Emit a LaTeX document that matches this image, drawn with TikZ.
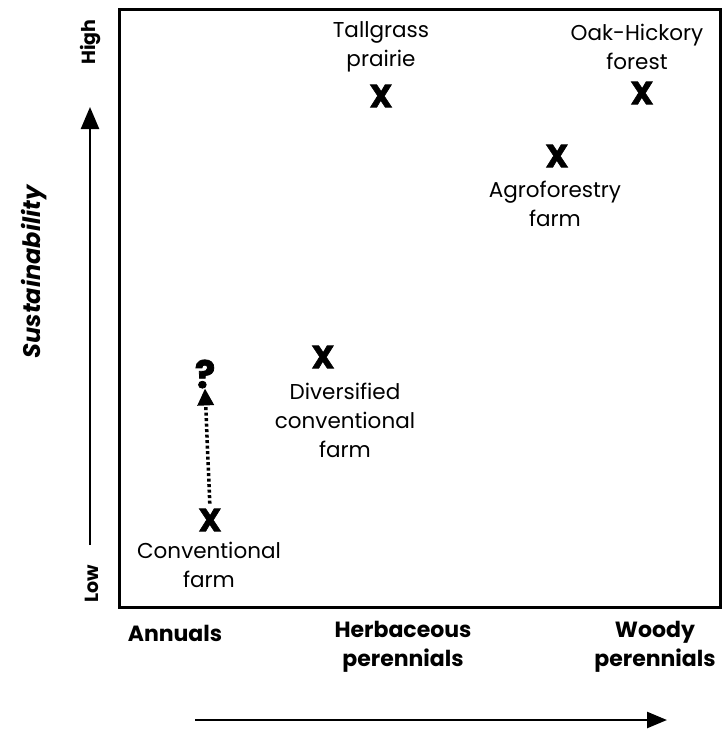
\documentclass[tikz,border=0pt]{standalone}
\usepackage{fontspec}
\setmainfont{Poppins}
\usetikzlibrary{arrows.meta,positioning}

\tikzset{
  lbl/.style={align=center, inner sep=0pt, font=\fontsize{21.5}{29}\selectfont},
  axlbl/.style={align=center, inner sep=0pt, font=\fontsize{22}{29}\selectfont\bfseries},
  endlbl/.style={inner sep=0pt, font=\fontsize{19}{19}\selectfont\bfseries},
  xmark/.style={inner sep=0pt, font=\fontsize{32}{32}\selectfont\bfseries\addfontfeature{FakeBold=2}},
}

\begin{document}
\begin{tikzpicture}[x=1pt, y=-1pt]
    \useasboundingbox (0,0) rectangle (724,732);
    % frame
    \draw[line width=3pt] (119,9) rectangle (720,607);
    % y axis
    \node[endlbl, rotate=90] (high) at (91,42) {High};
    \node[endlbl, rotate=90] (low) at (92,584) {Low};
    \node[endlbl, rotate=90, font=\fontsize{24}{29}\selectfont\bfseries\itshape] (sust) at (34,272) {Sustainability};
    \coordinate (ybot) at (90,545);
    \coordinate (ytop) at (90,107);
    \draw[line width=2.5pt, -{Triangle[length=22pt, width=18pt]}] (ybot) -- (ytop);
    % x axis
    \node[axlbl] (annuals) at (175,633) {Annuals};
    \node[axlbl] (herb) at (403,647) {Herbaceous\\perennials};
    \node[axlbl] (woody) at (655,647) {Woody\\perennials};
    \coordinate (xleft) at (195,720);
    \coordinate (xright) at (667,720);
    \draw[line width=2.5pt, -{Triangle[length=20pt, width=16pt]}] (xleft) -- (xright);
    % systems
    \node[xmark] (tall) at (381,96) {X};
    \node[lbl] (talllbl) at (381,47) {Tallgrass\\prairie};
    \node[xmark] (oak) at (642,93) {X};
    \node[lbl] (oaklbl) at (637,47) {Oak-Hickory\\forest};
    \node[xmark] (agro) at (557,156) {X};
    \node[lbl] (agrolbl) at (555,204) {Agroforestry\\farm};
    \node[xmark] (div) at (323,357) {X};
    \node[lbl] (divlbl) at (345,420) {Diversified\\conventional\\farm};
    \node[xmark] (conv) at (210,520) {X};
    \node[lbl] (convlbl) at (209,565) {Conventional\\farm};
    \node[xmark, font=\fontsize{38}{38}\selectfont\bfseries\addfontfeature{FakeBold=2}] (quest) at (205,374) {?};
    \draw[line width=3.5pt, dash pattern=on 3pt off 2.5pt, shorten <=5pt, -{Triangle[length=17pt, width=16pt]}] (conv.north) -- (quest.south);
\end{tikzpicture}
\end{document}
